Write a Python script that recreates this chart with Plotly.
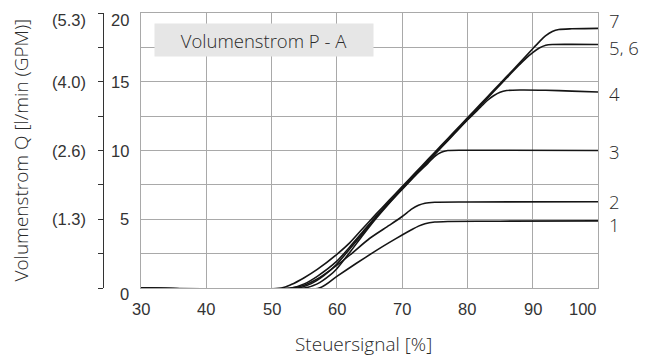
import plotly.graph_objects as go

# Flow P -> A versus control signal, one curve per setting
curve_labels = ["1", "2", "3", "4", "5, 6", "7"]

signal_1 = [30, 57.3, 60, 63, 66, 68, 70, 71.5, 72.5, 73.5, 75, 77, 85, 100]
flow_1 = [0, 0, 0.85, 1.8, 2.72, 3.3, 3.85, 4.25, 4.5, 4.68, 4.8, 4.84, 4.86, 4.88]

signal_2 = [30, 53, 55, 57, 59, 62, 65, 68, 70, 71.5, 72.5, 73.5, 75, 80, 100]
flow_2 = [0, 0, 0.2, 0.65, 1.3, 2.4, 3.6, 4.55, 5.2, 5.75, 6.02, 6.17, 6.24, 6.26, 6.27]

signal_3 = [30, 55, 57, 59, 60, 62, 64, 66, 68, 70, 72, 74, 75, 76, 77, 80, 100]
flow_3 = [0, 0, 0.3, 0.95, 1.4, 2.6, 3.85, 5.05, 6.15, 7.17, 8.17, 9.1, 9.58, 9.88, 10.0, 10.02, 10.0]

signal_4 = [30, 54, 56, 58, 60, 62, 64, 66, 68, 70, 72, 74, 76, 78, 80, 82, 83, 84, 85, 86, 88, 92, 96, 100]
flow_4 = [0, 0, 0.3, 0.9, 1.75, 2.85, 3.98, 5.15, 6.2, 7.22, 8.22, 9.22, 10.22, 11.22, 12.22, 13.15, 13.62, 13.98, 14.24, 14.36, 14.4, 14.38, 14.32, 14.26]

signal_56 = [30, 53, 55, 57, 60, 62, 64, 66, 68, 70, 72, 74, 76, 78, 80, 82, 84, 86, 88, 89, 90, 91, 92, 93, 96, 100]
flow_56 = [0, 0, 0.3, 0.85, 1.95, 3.0, 4.1, 5.22, 6.25, 7.27, 8.27, 9.27, 10.27, 11.27, 12.27, 13.27, 14.27, 15.27, 16.25, 16.72, 17.12, 17.45, 17.65, 17.71, 17.72, 17.71]

signal_7 = [30, 51.5, 53, 55, 57, 60, 62, 64, 66, 68, 70, 72, 74, 76, 78, 80, 82, 84, 86, 88, 90, 91, 92, 93, 94, 96, 100]
flow_7 = [0, 0, 0.25, 0.75, 1.35, 2.45, 3.3, 4.35, 5.37, 6.37, 7.37, 8.37, 9.37, 10.37, 11.37, 12.37, 13.37, 14.37, 15.37, 16.37, 17.4, 17.9, 18.35, 18.65, 18.8, 18.85, 18.88]

# Where each curve label sits on the right-hand side
label_flow = [4.62, 6.32, 10.0, 14.2, 17.54, 19.48]

# Axis ticks
x_ticks = [30, 40, 50, 60, 70, 80, 90, 100]
y_ticks = [0, 5, 10, 15, 20]
gpm_ticks = [5, 10, 15, 20]
gpm_labels = ["(1.3)", "(2.6)", "(4.0)", "(5.3)"]

TEXT = "#2a2a2a"
GRID = "#a9a9a9"
TICK_FONT = dict(family="Liberation Sans, Arial, sans-serif", size=16.5, color="#333333")
LABEL_FONT = dict(family="Open Sans, Noto Sans, sans-serif", size=19, color=TEXT, weight=300)
CURVE_FONT = dict(family="Open Sans, Noto Sans, sans-serif", size=18.5, color=TEXT, weight=300)

curves = [
    (signal_1, flow_1), (signal_2, flow_2), (signal_3, flow_3),
    (signal_4, flow_4), (signal_56, flow_56), (signal_7, flow_7),
]

fig = go.Figure()
for (xs, ys), name in zip(curves, curve_labels):
    fig.add_trace(go.Scatter(
        x=xs, y=ys, mode="lines", name=name,
        line=dict(color="#151515", width=1.6, shape="spline", smoothing=0.7),
        hoverinfo="x+y", showlegend=False,
    ))

# invisible trace so the secondary flow axis (GPM) gets drawn
fig.add_trace(go.Scatter(x=[30], y=[0], yaxis="y2", mode="markers",
                         marker=dict(opacity=0), showlegend=False, hoverinfo="skip"))

W, H = 646, 357
left_px, right_px = 141, 598
gpm_axis_px = 103

annotations = []

# curve names next to their line ends
for name, yv in zip(curve_labels, label_flow):
    annotations.append(dict(x=100, y=yv, xref="x", yref="y", text=name, showarrow=False,
                            xanchor="left", yanchor="middle", xshift=9, height=18,
                            font=CURVE_FONT))

# x tick labels
for i, v in enumerate(x_ticks):
    last = i == len(x_ticks) - 1
    annotations.append(dict(x=v, y=0, xref="x", yref="y", text=str(v), showarrow=False,
                            xanchor="right" if last else "center", yanchor="middle",
                            xshift=1 if last else 0, yshift=-20.5, font=TICK_FONT))

# l/min tick labels
for v in y_ticks:
    shift = -7 if v == 20 else (-6 if v == 0 else 0)
    annotations.append(dict(x=30, y=v, xref="x", yref="y", text=str(v), showarrow=False,
                            xanchor="right", yanchor="middle", xshift=-10, yshift=shift,
                            font=TICK_FONT))

# GPM tick labels
for v, t in zip(gpm_ticks, gpm_labels):
    shift = -7 if v == 20 else 0
    annotations.append(dict(x=88 / right_px, y=v, xref="paper", yref="y", text=t,
                            showarrow=False, xanchor="right", yanchor="middle",
                            yshift=shift, font=TICK_FONT))

# axis titles
annotations.append(dict(x=20 / right_px, y=0.5, xref="paper", yref="paper",
                        text="Volumenstrom Q [l/min (GPM)]", textangle=-90, showarrow=False,
                        xanchor="center", yanchor="middle", font=LABEL_FONT))
annotations.append(dict(x=(left_px + right_px) / 2 / right_px - 6 / right_px,
                        y=(288 - 344) / 275,
                        xref="paper", yref="paper", text="Steuersignal [%]", showarrow=False,
                        xanchor="center", yanchor="middle", font=LABEL_FONT))

# chart caption in a grey box
annotations.append(dict(x=(155 + 373) / 2 / right_px, y=18.03,
                        xref="paper", yref="y", text="Volumenstrom P - A", showarrow=False,
                        xanchor="center", yanchor="middle", bgcolor="#e6e6e6",
                        width=214, height=28, borderpad=2, align="center",
                        font=dict(family="Open Sans, Noto Sans, sans-serif", size=18.5,
                                  color=TEXT, weight=300)))

fig.update_layout(
    width=W, height=H,
    margin=dict(l=0, r=W - right_px, t=13, b=69, pad=0),
    paper_bgcolor="white", plot_bgcolor="white",
    xaxis=dict(range=[30, 100], domain=[left_px / right_px, 1], tickvals=x_ticks,
               showticklabels=False, ticks="", showgrid=True, gridcolor=GRID, gridwidth=1,
               showline=True, linecolor=GRID, linewidth=1, mirror=True, zeroline=False,
               fixedrange=True),
    yaxis=dict(range=[0, 20], tickvals=y_ticks, showticklabels=False, ticks="",
               showgrid=True, gridcolor=GRID, gridwidth=1,
               minor=dict(dtick=2.5, showgrid=True, gridcolor=GRID, gridwidth=1, ticks=""),
               showline=True, linecolor=GRID, linewidth=1, mirror=True, zeroline=False,
               fixedrange=True),
    yaxis2=dict(range=[0, 20], overlaying="y", anchor="free", side="left",
                position=gpm_axis_px / right_px,
                tickvals=[0, 2.5, 5, 7.5, 10, 12.5, 15, 17.5, 20], showticklabels=False,
                ticks="outside", ticklen=5, tickcolor="#333333", tickwidth=1,
                showline=True, linecolor="#333333", linewidth=1, showgrid=False,
                zeroline=False, fixedrange=True),
    annotations=annotations,
    font=LABEL_FONT,
)

fig.write_html("out.html", config={"displayModeBar": False})
